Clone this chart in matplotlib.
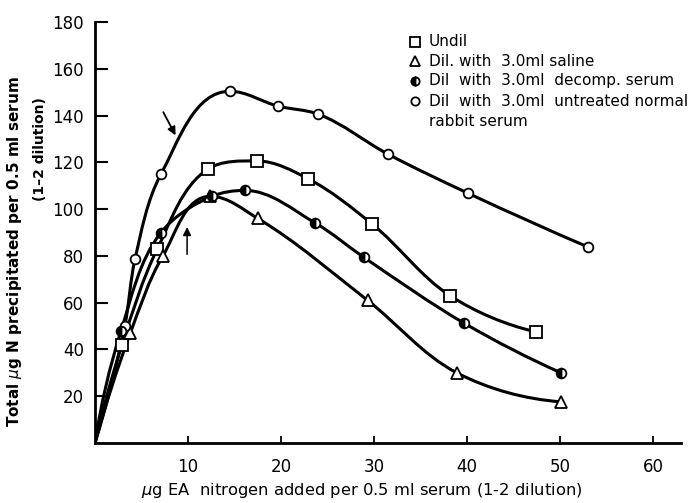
import numpy as np
import matplotlib
matplotlib.use('Agg')
import matplotlib.pyplot as plt
from matplotlib.path import Path
from matplotlib.patches import PathPatch

# values (x = ug EA N added, y = total ug N precipitated)
undil_x = [0, 2.9, 6.7, 12.1, 17.4, 22.9, 29.8, 38.2, 47.4]
undil_y = [0, 42, 83, 117, 120.6, 113, 93.6, 62.9, 47.5]

saline_x = [0, 3.8, 7.3, 12.4, 17.5, 29.3, 38.9, 50.1]
saline_y = [0, 47, 80, 105.5, 96, 61, 30, 17.6]

decomp_x = [0, 2.8, 7.1, 12.6, 16.1, 23.7, 28.9, 39.7, 50.1]
decomp_y = [0, 48, 90, 105.5, 108, 94, 79.4, 51.2, 30]

normal_x = [0, 3.2, 4.3, 7.1, 14.5, 19.7, 24.0, 31.5, 40.1, 53.0]
normal_y = [0, 50, 78.6, 115, 150.4, 144, 140.6, 123.5, 106.8, 83.8]

x_ticks = [10, 20, 30, 40, 50, 60]
y_ticks = [20, 40, 60, 80, 100, 120, 140, 160, 180]

legend_labels = ['Undil', 'Dil. with  3.0ml saline', 'Dil  with  3.0ml  decomp. serum',
                 'Dil  with  3.0ml  untreated normal']


def smooth_curve(ax, x, y, lw=2.2):
    # hand-drawn look: bezier segments through the points, tangents taken
    # in screen proportions, horizontal at a peak
    sx, sy = 9.3, 2.34
    P = np.column_stack([np.asarray(x, float) * sx, np.asarray(y, float) * sy])
    n = len(P)
    seg = np.diff(P, axis=0)
    L = np.hypot(seg[:, 0], seg[:, 1])
    U = seg / L[:, None]
    T = np.zeros_like(P)
    for i in range(1, n - 1):
        if seg[i - 1, 1] * seg[i, 1] < 0:
            T[i] = [1.0, 0.0]
        else:
            t = U[i - 1] + U[i]
            T[i] = t / np.hypot(*t)
    t = 2 * U[0] - T[1]
    T[0] = t / np.hypot(*t)
    t = 2 * U[-1] - T[-2]
    T[-1] = t / np.hypot(*t)
    verts = [P[0]]
    codes = [Path.MOVETO]
    for i in range(n - 1):
        verts += [P[i] + T[i] * L[i] / 3, P[i + 1] - T[i + 1] * L[i] / 3, P[i + 1]]
        codes += [Path.CURVE4] * 3
    verts = np.array(verts) / [sx, sy]
    ax.add_patch(PathPatch(Path(verts, codes), fill=False, lw=lw,
                           edgecolor='black', capstyle='round', zorder=2))


fig = plt.figure(figsize=(6.94, 5.03), dpi=100)
ax = fig.add_axes([95 / 694, 60 / 503, 586 / 694, 421 / 503])

for xs, ys in [(undil_x, undil_y), (saline_x, saline_y),
               (decomp_x, decomp_y), (normal_x, normal_y)]:
    smooth_curve(ax, xs, ys)

mk = dict(color='black', markeredgewidth=1.3, linestyle='none', zorder=3)
ax.plot(undil_x[1:], undil_y[1:], marker='s', markersize=8.5,
        markerfacecolor='white', **mk)
ax.plot(saline_x[1:], saline_y[1:], marker='^', markersize=8,
        markerfacecolor='white', **mk)
ax.plot(normal_x[1:], normal_y[1:], marker='o', markersize=7,
        markerfacecolor='white', **mk)
ax.plot(decomp_x[1:], decomp_y[1:], marker='o', markersize=7, fillstyle='left',
        markerfacecolor='black', markerfacecoloralt='white', **mk)

# arrows drawn on the original figure
ax.annotate('', xy=(8.8, 130.5), xytext=(7.2, 142.5),
            arrowprops=dict(arrowstyle='-|>', color='black', lw=1.3, mutation_scale=12))
ax.annotate('', xy=(9.9, 93.5), xytext=(9.9, 79.5),
            arrowprops=dict(arrowstyle='-|>', color='black', lw=1.1, mutation_scale=12))

ax.set_xlim(0, 63)
ax.set_ylim(0, 180)
ax.set_xticks(x_ticks)
ax.set_yticks(y_ticks)
ax.tick_params(axis='y', direction='in', length=9, width=1.5, pad=8, labelsize=12)
ax.tick_params(axis='x', direction='in', length=5, width=1.3, pad=11, labelsize=12)
for s in ['top', 'right']:
    ax.spines[s].set_visible(False)
for s in ['left', 'bottom']:
    ax.spines[s].set_linewidth(2)

# legend, drawn by hand
leg_y = [42, 61, 81, 101]
leg_styles = [dict(marker='s', markersize=7, markerfacecolor='white'),
              dict(marker='^', markersize=6.5, markerfacecolor='white'),
              dict(marker='o', markersize=6, fillstyle='left', markerfacecolor='black',
                   markerfacecoloralt='white'),
              dict(marker='o', markersize=6, markerfacecolor='white')]
for yy, lab, st in zip(leg_y, legend_labels, leg_styles):
    fig.lines.append(plt.Line2D([415 / 694], [1 - yy / 503], transform=fig.transFigure,
                                color='black', markeredgewidth=1.3, linestyle='none', **st))
    fig.text(429 / 694, 1 - yy / 503, lab, fontsize=11, va='center', ha='left')
fig.text(429 / 694, 1 - 121 / 503, 'rabbit serum', fontsize=11, va='center', ha='left')

fig.text(15 / 694, 1 - 252 / 503, 'Total $\\mu$g N precipitated per 0.5 ml serum',
         rotation=90, fontsize=11, fontweight='bold', ha='center', va='center')
fig.text(40 / 694, 1 - 149 / 503, '(1\u20132 dilution)',
         rotation=90, fontsize=10, fontweight='bold', ha='center', va='center')
fig.text(362 / 694, 1 - 490 / 503,
         '$\\mu$g EA  nitrogen added per 0.5 ml serum (1-2 dilution)',
         fontsize=11.8, ha='center', va='center')

fig.savefig('out.png', dpi=100)
